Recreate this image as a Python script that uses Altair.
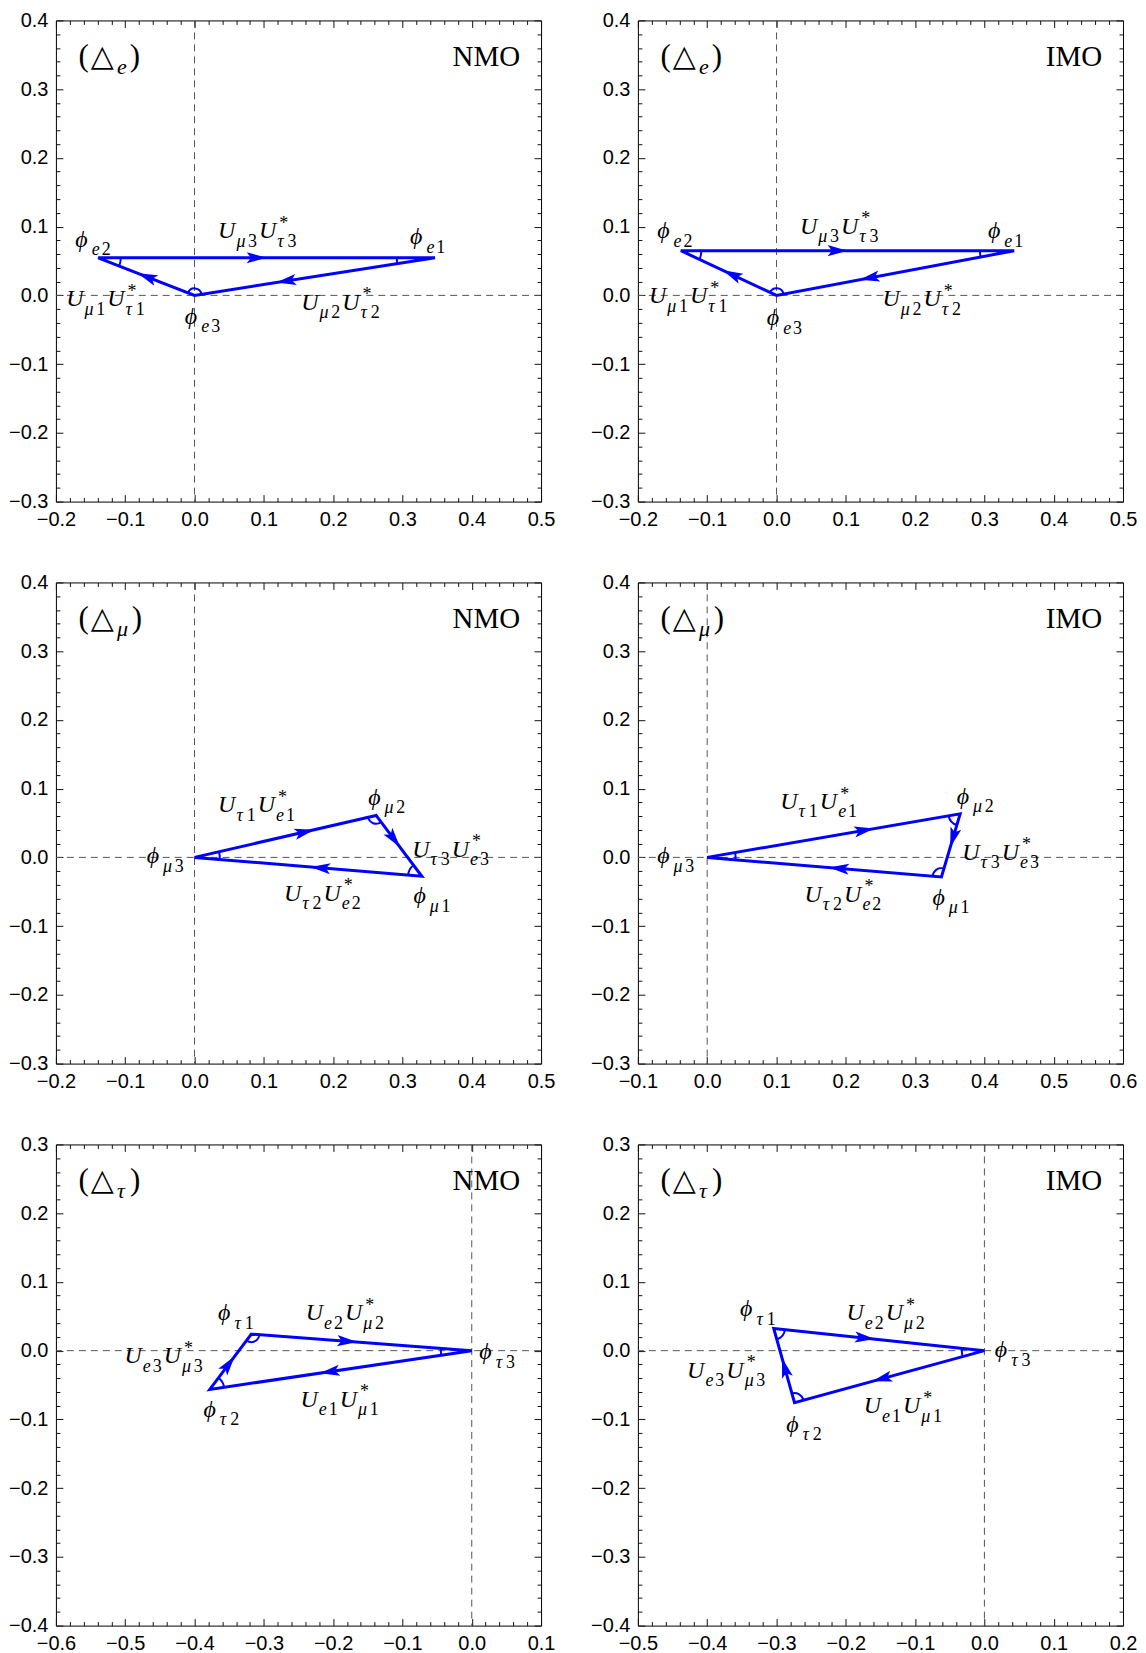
import math
import altair as alt
import pandas as pd

# ---------------- values ----------------
panel_orderings = ["NMO", "IMO", "NMO", "IMO", "NMO", "IMO"]
panel_flavours = ["e", "e", "μ", "μ", "τ", "τ"]
x_domains = [[-0.2, 0.5], [-0.2, 0.5], [-0.2, 0.5], [-0.1, 0.6], [-0.6, 0.1], [-0.5, 0.2]]
y_domains = [[-0.3, 0.4], [-0.3, 0.4], [-0.3, 0.4], [-0.3, 0.4], [-0.4, 0.3], [-0.4, 0.3]]

x_major_ticks = [
    [-0.2, -0.1, 0.0, 0.1, 0.2, 0.3, 0.4, 0.5],
    [-0.2, -0.1, 0.0, 0.1, 0.2, 0.3, 0.4, 0.5],
    [-0.2, -0.1, 0.0, 0.1, 0.2, 0.3, 0.4, 0.5],
    [-0.1, 0.0, 0.1, 0.2, 0.3, 0.4, 0.5, 0.6],
    [-0.6, -0.5, -0.4, -0.3, -0.2, -0.1, 0.0, 0.1],
    [-0.5, -0.4, -0.3, -0.2, -0.1, 0.0, 0.1, 0.2],
]
y_major_ticks = [
    [-0.3, -0.2, -0.1, 0.0, 0.1, 0.2, 0.3, 0.4],
    [-0.3, -0.2, -0.1, 0.0, 0.1, 0.2, 0.3, 0.4],
    [-0.3, -0.2, -0.1, 0.0, 0.1, 0.2, 0.3, 0.4],
    [-0.3, -0.2, -0.1, 0.0, 0.1, 0.2, 0.3, 0.4],
    [-0.4, -0.3, -0.2, -0.1, 0.0, 0.1, 0.2, 0.3],
    [-0.4, -0.3, -0.2, -0.1, 0.0, 0.1, 0.2, 0.3],
]

# triangle vertices, listed in the direction of the arrows
vertex_subs = [
    ["e2", "e1", "e3"], ["e2", "e1", "e3"],
    ["μ3", "μ2", "μ1"], ["μ3", "μ2", "μ1"],
    ["τ1", "τ3", "τ2"], ["τ1", "τ3", "τ2"],
]
vertex_x = [
    [-0.139, 0.347, 0.0], [-0.138, 0.343, 0.0],
    [0.0, 0.262, 0.328], [0.0, 0.365, 0.338],
    [-0.318, 0.0, -0.378], [-0.304, 0.0, -0.274],
]
vertex_y = [
    [0.0547, 0.0547, 0.0], [0.065, 0.065, 0.0],
    [0.0, 0.061, -0.0276], [0.0, 0.0634, -0.0285],
    [0.024, 0.0, -0.0564], [0.0323, 0.0, -0.0756],
]
vertex_label_x = [
    [-0.172, 0.311, -0.014], [-0.172, 0.305, -0.014],
    [-0.069, 0.2505, 0.316], [-0.072, 0.360, 0.325],
    [-0.366, 0.011, -0.387], [-0.3525, 0.015, -0.286],
]
vertex_label_y = [
    [0.082, 0.086, -0.030], [0.095, 0.095, -0.032],
    [0.003, 0.088, -0.055], [0.003, 0.090, -0.057],
    [0.056, -0.001, -0.0845], [0.062, 0.002, -0.1066],
]

# side k runs from vertex k to vertex k+1 : label U_{a} U*_{b}
side_sub_a = [
    ["μ3", "μ2", "μ1"], ["μ3", "μ2", "μ1"],
    ["τ1", "τ3", "τ2"], ["τ1", "τ3", "τ2"],
    ["e2", "e1", "e3"], ["e2", "e1", "e3"],
]
side_sub_b = [
    ["τ3", "τ2", "τ1"], ["τ3", "τ2", "τ1"],
    ["e1", "e3", "e2"], ["e1", "e3", "e2"],
    ["μ2", "μ1", "μ3"], ["μ2", "μ1", "μ3"],
]
side_label_x = [
    [0.034, 0.154, -0.185], [0.034, 0.153, -0.184],
    [0.034, 0.314, 0.129], [0.1055, 0.368, 0.1405],
    [-0.2395, -0.247, -0.501], [-0.199, -0.174, -0.429],
]
side_label_y = [
    [0.095, -0.009, -0.004], [0.101, -0.004, 0.0],
    [0.077, 0.0126, -0.0518], [0.082, 0.008, -0.053],
    [0.056, -0.0697, -0.0067], [0.056, -0.0795, -0.028],
]
arrow_fraction = [
    [0.50, 0.66, 0.59], [0.50, 0.65, 0.56],
    [0.66, 0.52, 0.49], [0.66, 0.53, 0.48],
    [0.48, 0.58, 0.60], [0.48, 0.59, 0.60],
]

# ---------------- styling ----------------
W, H = 486, 482
BLUE = "#0000ff"
SERIF = "Liberation Serif, DejaVu Serif"
SANS = "Liberation Sans, Arial"
SYMB = "DejaVu Sans"
BASE, SUB, TRACK = 24, 18, 2.0
WID = {"U": 0.722, "ϕ": 0.64, "e": 0.444, "μ": 0.54, "τ": 0.46, "1": 0.5, "2": 0.5,
       "3": 0.5, "*": 0.5, "(": 0.333, ")": 0.333, "△": 0.84}
ARROW = "M0,0 L0.28,1 L0,0.78 L-0.28,1 Z"


def kind_of(ch):
    return "up" if ch in "0123456789*" else "it"


def math_atoms(parts):
    """(text, kind, size, dx_px, baseline offset below anchor px)"""
    out, cur = [], 0.0
    for base, sub, sup in parts:
        out.append((base, "it", BASE, cur, 8.0))
        cur += WID[base] * BASE + 1.0
        c = cur
        for ch in sub:
            out.append((ch, kind_of(ch), SUB, c, 16.5))
            c += WID[ch] * SUB + TRACK
        c2 = cur + 2
        for ch in sup:
            out.append((ch, kind_of(ch), SUB, c2, -1.5))
            c2 += WID[ch] * SUB + TRACK
        cur = max(c, c2)
    return out


def add_pieces(rows, atoms, x0, y0, sx, sy):
    for text, kind, size, dx, dy in atoms:
        rows.append({"x": x0 + dx / sx, "y": y0 - dy / sy, "t": text, "s": size, "k": kind})


def minor_ticks(dom, majors):
    n = int(round((dom[1] - dom[0]) / 0.02))
    vals = [round(dom[0] + 0.02 * k, 3) for k in range(n + 1)]
    return [v for v in vals if min(abs(v - m) for m in majors) > 1e-6]


def lab_axis(orient, values, pad):
    return alt.Axis(orient=orient, values=values, format=".1f", ticks=False, domain=False,
                    grid=False, title=None, labelFont=SANS, labelFontSize=20,
                    labelColor="black", labelPadding=pad, labelOverlap=False, labelFlush=False)


def tick_axis(orient, values, size, offset):
    return alt.Axis(orient=orient, values=values, offset=offset, labels=False, domain=False,
                    grid=False, title=None, ticks=True, tickSize=size, tickColor="#111",
                    tickWidth=1)


def panel(i):
    xd, yd = x_domains[i], y_domains[i]
    sx = W / (xd[1] - xd[0])
    sy = H / (yd[1] - yd[0])
    xs = alt.Scale(domain=xd, nice=False, zero=False)
    ys = alt.Scale(domain=yd, nice=False, zero=False)
    vx, vy = vertex_x[i], vertex_y[i]
    tri = pd.DataFrame({"x": vx, "y": vy, "i": [0, 1, 2]})

    xmaj, ymaj = x_major_ticks[i], y_major_ticks[i]
    xmin, ymin = minor_ticks(xd, xmaj), minor_ticks(yd, ymaj)

    def axis_layer(ax, ay):
        return alt.Chart(tri).mark_point(opacity=0).encode(
            x=alt.X("x:Q", scale=xs, axis=ax), y=alt.Y("y:Q", scale=ys, axis=ay))

    layers = [
        axis_layer(lab_axis("bottom", xmaj, 8), lab_axis("left", ymaj, 8)),
        axis_layer(tick_axis("top", xmaj, 7, -H), tick_axis("right", ymaj, 7, -W)),
        axis_layer(tick_axis("top", xmin, 4, -H), tick_axis("right", ymin, 4, -W)),
        axis_layer(tick_axis("bottom", xmaj, 7, -H), tick_axis("left", ymaj, 7, -W)),
        axis_layer(tick_axis("bottom", xmin, 4, -H), tick_axis("left", ymin, 4, -W)),
    ]

    zero = pd.DataFrame({"z": [0.0]})
    layers.append(alt.Chart(zero).mark_rule(color="#555555", strokeDash=[7, 5], strokeWidth=1)
                  .encode(x=alt.X("z:Q", scale=xs, axis=None)))
    layers.append(alt.Chart(zero).mark_rule(color="#555555", strokeDash=[7, 5], strokeWidth=1)
                  .encode(y=alt.Y("z:Q", scale=ys, axis=None)))

    # angle arcs at vertices
    def scr_angle(dx, dy):
        a = math.atan2(dx * sx, dy * sy)
        return a % (2 * math.pi)

    arcs = []
    for k in range(3):
        p, n = (k - 1) % 3, (k + 1) % 3
        a1 = scr_angle(vx[p] - vx[k], vy[p] - vy[k])
        a2 = scr_angle(vx[n] - vx[k], vy[n] - vy[k])
        d = (a2 - a1) % (2 * math.pi)
        if d < math.pi:
            s, e = a1, a1 + d
        else:
            d = (a1 - a2) % (2 * math.pi)
            s, e = a2, a2 + d
        r = min(42.0, max(6.0, 12.5 / (d ** 0.6)))
        arcs.append({"x": vx[k], "y": vy[k], "t1": s, "t2": e, "ro": r + 1.0, "ri": r - 1.0})
    layers.append(alt.Chart(pd.DataFrame(arcs)).mark_arc(color=BLUE, stroke=None).encode(
        x=alt.X("x:Q", scale=xs, axis=None), y=alt.Y("y:Q", scale=ys, axis=None),
        theta=alt.Theta("t1:Q", scale=None), theta2=alt.Theta2("t2:Q"),
        radius=alt.Radius("ro:Q", scale=None), radius2=alt.Radius2("ri:Q")))

    # triangle sides
    layers.append(alt.Chart(tri).mark_line(color=BLUE, strokeWidth=3, interpolate="linear-closed",
                                           strokeJoin="miter").encode(
        x=alt.X("x:Q", scale=xs, axis=None), y=alt.Y("y:Q", scale=ys, axis=None), order="i:Q"))

    # arrowheads
    arrows = []
    for k in range(3):
        n = (k + 1) % 3
        f = arrow_fraction[i][k]
        dx, dy = vx[n] - vx[k], vy[n] - vy[k]
        ang = math.degrees(math.atan2(dx * sx, dy * sy)) % 360
        arrows.append({"x": vx[k] + f * dx, "y": vy[k] + f * dy, "a": ang})
    layers.append(alt.Chart(pd.DataFrame(arrows)).mark_point(
        shape=ARROW, filled=True, color=BLUE, opacity=1, size=1600, strokeWidth=0).encode(
        x=alt.X("x:Q", scale=xs, axis=None), y=alt.Y("y:Q", scale=ys, axis=None),
        angle=alt.Angle("a:Q", scale=None)))

    # text pieces
    rows = []
    for k in range(3):
        add_pieces(rows, math_atoms([("ϕ", vertex_subs[i][k], "")]),
                   vertex_label_x[i][k], vertex_label_y[i][k], sx, sy)
        add_pieces(rows, math_atoms([("U", side_sub_a[i][k], ""), ("U", side_sub_b[i][k], "*")]),
                   side_label_x[i][k], side_label_y[i][k], sx, sy)
    fl = panel_flavours[i]
    cur = 0.0
    corner = [("(", "up", 31, cur, 0.0)]
    cur += WID["("] * 31 + 2
    corner.append(("△", "sym", 30, cur, 0.0))
    cur += WID["△"] * 30 + 1
    corner.append((fl, "it", 22, cur, 8.0))
    cur += WID[fl] * 22 + 3
    corner.append((")", "up", 31, cur, 0.0))
    add_pieces(rows, corner, xd[0] + 22.6 / sx, yd[1] - 45.3 / sy, sx, sy)
    pieces = pd.DataFrame(rows)

    for kind, font, style in [("it", SERIF, "italic"), ("up", SERIF, "normal"), ("sym", SYMB, "normal")]:
        layers.append(alt.Chart(pieces).transform_filter(alt.datum.k == kind).mark_text(
            align="left", baseline="alphabetic", font=font, fontStyle=style, color="black").encode(
            x=alt.X("x:Q", scale=xs, axis=None), y=alt.Y("y:Q", scale=ys, axis=None),
            text="t:N", size=alt.Size("s:Q", scale=None)))

    ordf = pd.DataFrame({"x": [xd[1] - 21 / sx], "y": [yd[1] - 45.6 / sy], "t": [panel_orderings[i]]})
    layers.append(alt.Chart(ordf).mark_text(align="right", baseline="alphabetic", font=SERIF,
                                            fontSize=29, color="black").encode(
        x=alt.X("x:Q", scale=xs, axis=None), y=alt.Y("y:Q", scale=ys, axis=None), text="t:N"))

    return alt.layer(*layers).resolve_axis(x="independent", y="independent").properties(
        width=W, height=H)


chart = alt.concat(*[panel(i) for i in range(6)], columns=2,
                   spacing={"row": 81, "column": 97}, bounds="flush").properties(
    padding={"left": 0, "top": 0, "right": 0, "bottom": 0}
).configure_view(stroke="black", strokeWidth=1)

chart.save("out.html", embed_options={"renderer": "svg", "actions": False})
